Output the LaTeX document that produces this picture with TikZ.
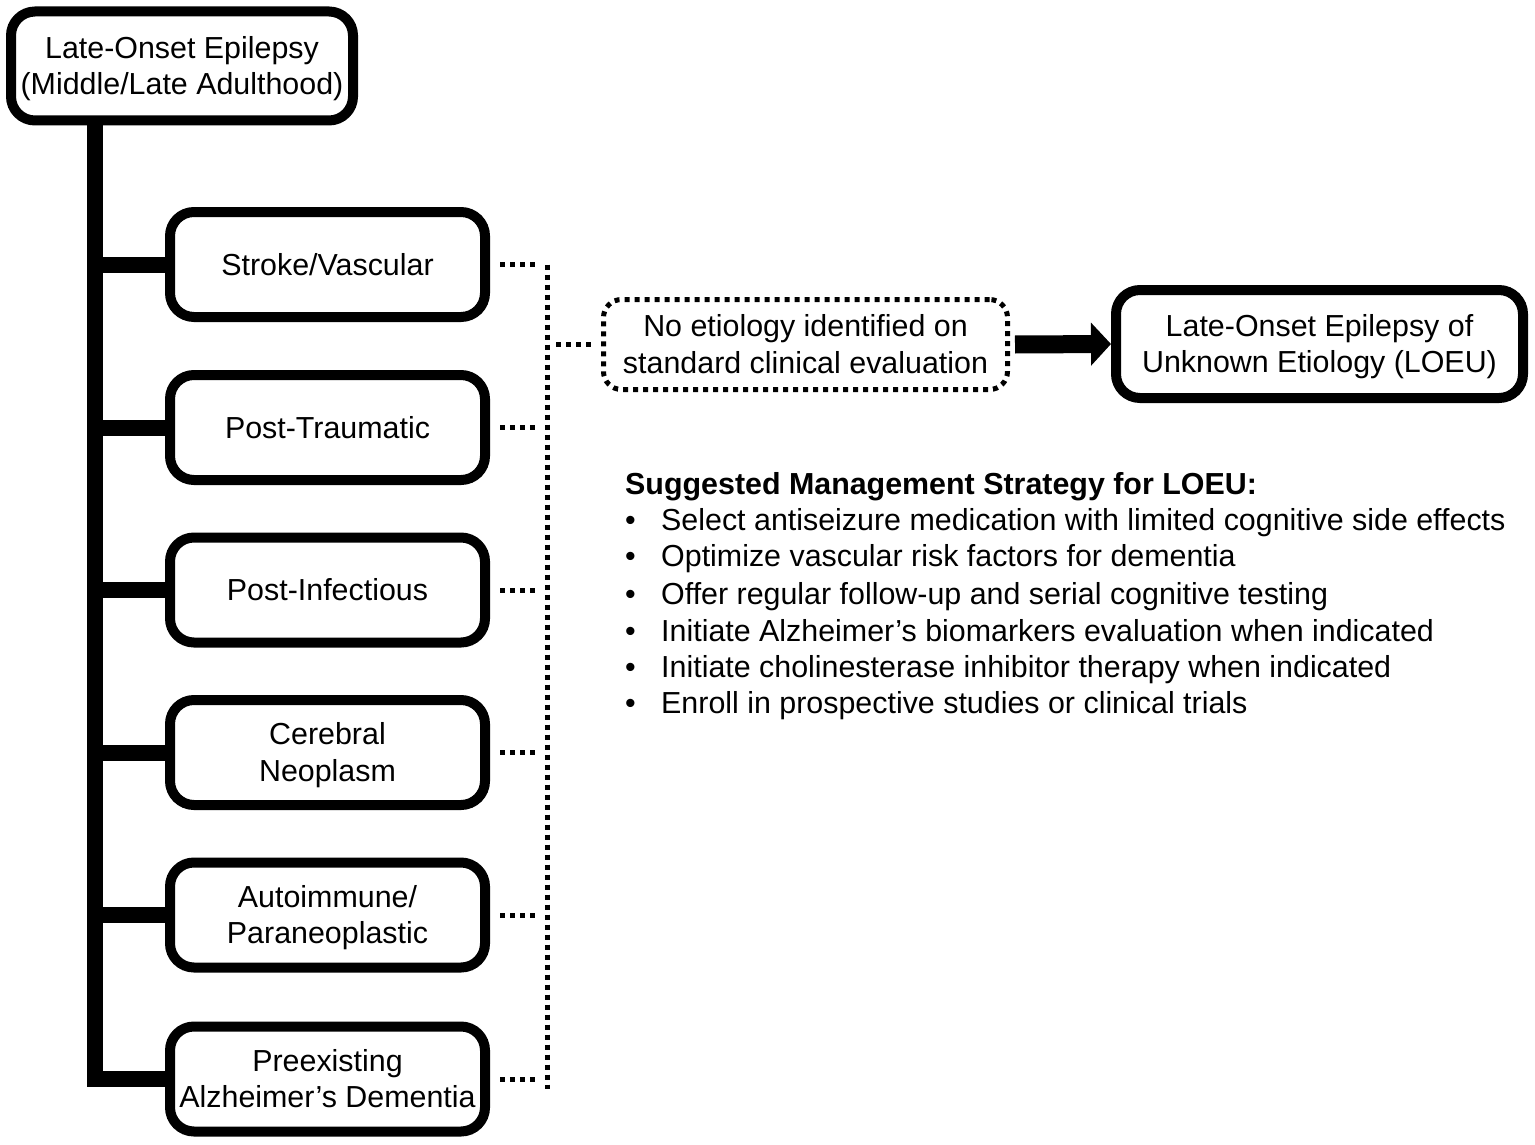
\documentclass[tikz,border=0pt]{standalone}
\usepackage{fontspec}
\setmainfont{Liberation Sans}
\usetikzlibrary{arrows.meta}
\newcommand\lst{\rule[-0.212em]{0pt}{1.117em}}
\begin{document}
\begin{tikzpicture}[x=1pt,y=-1pt,
  box/.style={draw, line width=10pt, rounded corners=24pt, align=center, font=\fontsize{30.4}{36.4}\selectfont, inner sep=0pt},
  sbox/.style={box, minimum width=315pt, minimum height=105pt},
  trunk/.style={line width=16pt},
  dots/.style={line width=5pt, dash pattern=on 5pt off 5pt},
  txt/.style={anchor=base west, font=\fontsize{30.4}{36.4}\selectfont, inner sep=0pt}]
\useasboundingbox (0,0) rectangle (1535,1145);
\node[box, minimum width=342pt, minimum height=109pt] (top) at (182,66) {\lst Late-Onset Epilepsy\\\lst (Middle/Late Adulthood)};
\node[sbox] (b1) at (327.5,264.5) {\lst Stroke/Vascular};
\node[sbox] (b2) at (327.5,427.5) {\lst Post-Traumatic};
\node[sbox] (b3) at (327.5,590) {\lst Post-Infectious};
\node[sbox] (b4) at (327.5,752.5) {\lst Cerebral\\\lst Neoplasm};
\node[sbox] (b5) at (327.5,915) {\lst Autoimmune/\\\lst Paraneoplastic};
\node[sbox] (b6) at (327.5,1079) {\lst Preexisting\\\lst Alzheimer’s Dementia};
\coordinate (tr) at (95,1079);
\draw[trunk] (top.south -| tr) -- (tr) -- (b6.west);
\foreach \b in {b1,b2,b3,b4,b5}{\draw[trunk] (\b.west -| tr) -- (\b.west);}
\node[box, line width=5pt, dash pattern=on 5pt off 5pt, rounded corners=18pt, minimum width=404pt, minimum height=90pt] (dot) at (805.5,344.5) {\lst No etiology identified on\\\lst standard clinical evaluation};
\node[box, minimum width=407pt, minimum height=108pt] (loeu) at (1319.5,344) {\lst Late-Onset Epilepsy of\\\lst Unknown Etiology (LOEU)};
\coordinate (vx) at (547,0);
\foreach \b in {b1,b2,b3,b4,b5,b6}{\draw[dots] ([xshift=10pt]\b.east) -- ([xshift=-8pt]\b.east -| vx);}
\draw[dots] (b1.east -| vx) -- ([yshift=-10pt]b6.east -| vx);
\draw[dots] ([xshift=9pt]dot.west -| vx) -- ([xshift=-8pt]dot.west);
\draw[line width=18pt, -{Triangle[length=20pt,width=42pt]}] ([xshift=5pt]dot.east) -- (loeu.west);
\node[txt, font=\fontsize{30.4}{36.4}\selectfont\bfseries] (head) at (625,494) {Suggested Management Strategy for LOEU:};
\node[txt] (d1) at (625,530) {•}; \node[txt] (l1) at (661,530) {Select antiseizure medication with limited cognitive side effects};
\node[txt] (d2) at (625,566) {•}; \node[txt] (l2) at (661,566) {Optimize vascular risk factors for dementia};
\node[txt] (d3) at (625,604) {•}; \node[txt] (l3) at (661,604) {Offer regular follow-up and serial cognitive testing};
\node[txt] (d4) at (625,641) {•}; \node[txt] (l4) at (661,641) {Initiate Alzheimer’s biomarkers evaluation when indicated};
\node[txt] (d5) at (625,677) {•}; \node[txt] (l5) at (661,677) {Initiate cholinesterase inhibitor therapy when indicated};
\node[txt] (d6) at (625,713) {•}; \node[txt] (l6) at (661,713) {Enroll in prospective studies or clinical trials};
\end{tikzpicture}
\end{document}
